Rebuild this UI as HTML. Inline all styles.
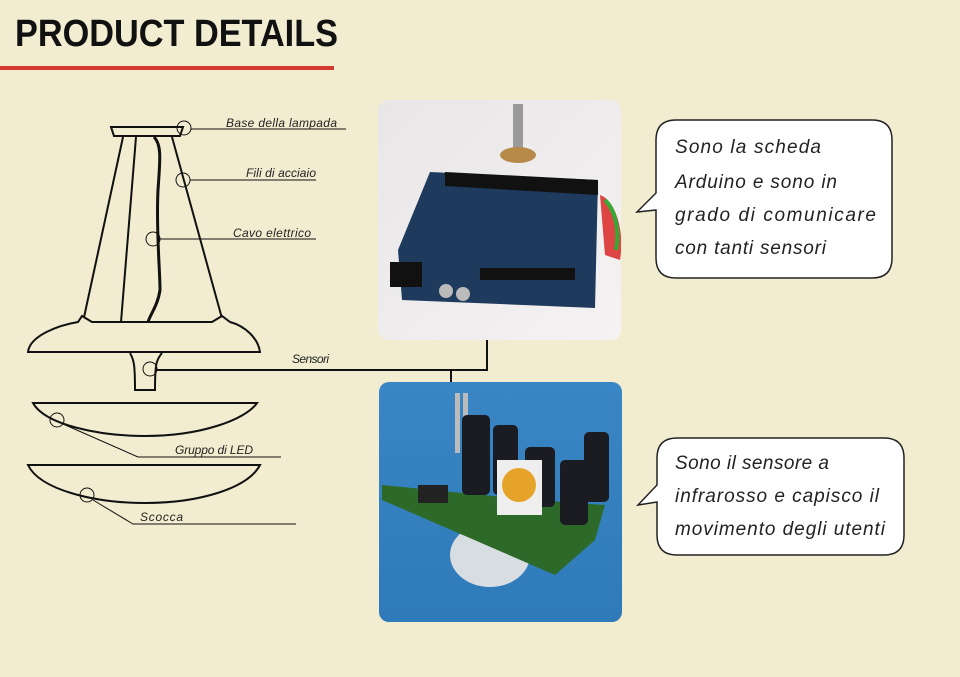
<!DOCTYPE html>
<html><head><meta charset="utf-8"><style>
body{margin:0;background:#f2ecd0;}
svg{display:block}
</style></head><body>
<svg width="960" height="677" viewBox="0 0 960 677" xmlns="http://www.w3.org/2000/svg" font-family="Liberation Sans, sans-serif">
<rect width="960" height="677" fill="#f2ecd0"/>
<text x="15" y="46" font-size="38" font-weight="bold" fill="#111" textLength="323" lengthAdjust="spacingAndGlyphs">PRODUCT DETAILS</text>
<rect x="0" y="66" width="334" height="4" fill="#d43a2e"/>

<g fill="none" stroke="#111" stroke-width="2">
<path d="M111 127 L183 127 L180 136 L114 136 Z" fill="#f2ecd0"/>
<line x1="123" y1="137" x2="83" y2="322"/>
<line x1="136" y1="137" x2="121" y2="322"/>
<line x1="172" y1="137" x2="223" y2="322"/>
<path d="M154 137 C162 145 160 160 158 190 C156 230 160 270 160 290 C158 305 150 315 148 322" stroke-width="3"/>
<path d="M28 352 C30 335 60 325 78 322 L82 316 L92 322 C130 322 180 322 212 322 L222 316 L230 322 C245 326 258 338 260 352 Z" fill="#f2ecd0"/>
<path d="M130 353 C134 360 135 365 135 390 L155 390 C155 365 156 360 162 353"/>
<path d="M33 403 L257 403 C245 420 200 436 145 436 C100 436 45 425 33 403 Z"/>
<path d="M28 465 L260 465 C248 488 200 503 145 503 C95 503 40 490 28 465 Z"/>
</g>
<g fill="none" stroke="#111" stroke-width="1">
<circle cx="184" cy="128" r="7"/><line x1="191" y1="129" x2="346" y2="129"/>
<circle cx="183" cy="180" r="7"/><line x1="190" y1="180" x2="316" y2="180"/>
<circle cx="153" cy="239" r="7"/><line x1="160" y1="239" x2="316" y2="239"/>
<circle cx="150" cy="369" r="7"/>
<circle cx="57" cy="420" r="7"/><polyline points="63,424 138,457 281,457"/>
<circle cx="87" cy="495" r="7"/><polyline points="93,500 133,524 296,524"/>
</g>
<polyline points="157,370 487,370 487,340" fill="none" stroke="#111" stroke-width="2"/>
<line x1="451" y1="370" x2="451" y2="383" stroke="#111" stroke-width="2"/>
<g font-size="12" font-style="italic" fill="#222">
<text x="226" y="127" textLength="111">Base della lampada</text>
<text x="246" y="177" textLength="70">Fili di acciaio</text>
<text x="233" y="237" textLength="78">Cavo elettrico</text>
<text x="292" y="363" textLength="37">Sensori</text>
<text x="175" y="454" textLength="78">Gruppo di LED</text>
<text x="140" y="521" textLength="43">Scocca</text>
</g>

<defs>
<clipPath id="c1"><rect x="378" y="100" width="243" height="240" rx="10"/></clipPath>
<clipPath id="c2"><rect x="379" y="382" width="243" height="240" rx="10"/></clipPath>
<linearGradient id="g1" x1="0" y1="0" x2="1" y2="1"><stop offset="0" stop-color="#e8e6e6"/><stop offset="1" stop-color="#f4f2f2"/></linearGradient>
<linearGradient id="g2" x1="0" y1="0" x2="0" y2="1"><stop offset="0" stop-color="#3a86c4"/><stop offset="1" stop-color="#2f7ab8"/></linearGradient>
</defs>
<g clip-path="url(#c1)">
<rect x="378" y="100" width="243" height="240" fill="url(#g1)"/>
<rect x="513" y="104" width="10" height="45" fill="#999"/>
<ellipse cx="518" cy="155" rx="18" ry="8" fill="#b88a4a"/>
<path d="M430 172 L598 180 L595 308 L402 300 L398 250 Z" fill="#1e3a5c"/>
<path d="M445 172 L598 180 L598 195 L445 186Z" fill="#111"/>
<rect x="480" y="268" width="95" height="12" fill="#111"/>
<rect x="390" y="262" width="32" height="25" fill="#111"/>
<circle cx="446" cy="291" r="7" fill="#bbb"/><circle cx="463" cy="294" r="7" fill="#bbb"/>
<path d="M600 195 C615 200 625 230 620 260 L605 255 Z" fill="#d44"/>
<path d="M605 200 C615 210 620 230 616 250" stroke="#3a3" stroke-width="4" fill="none"/>
</g>
<g clip-path="url(#c2)">
<rect x="379" y="382" width="243" height="240" fill="url(#g2)"/>
<ellipse cx="490" cy="555" rx="40" ry="32" fill="#d8dde2"/>
<path d="M382 485 L535 500 L605 505 L595 540 L555 575 L382 500 Z" fill="#2d6a2a"/>
<rect x="455" y="393" width="5" height="60" fill="#bbb"/><rect x="463" y="393" width="5" height="60" fill="#bbb"/>
<rect x="462" y="415" width="28" height="80" rx="5" fill="#1b1b22"/>
<rect x="493" y="425" width="25" height="70" rx="5" fill="#1b1b22"/>
<rect x="525" y="447" width="30" height="60" rx="5" fill="#1b1b22"/>
<rect x="560" y="460" width="28" height="65" rx="5" fill="#1b1b22"/>
<rect x="584" y="432" width="25" height="70" rx="5" fill="#1b1b22"/>
<rect x="497" y="460" width="45" height="55" fill="#eee"/>
<circle cx="519" cy="485" r="17" fill="#e6a32a"/>
<rect x="418" y="485" width="30" height="18" fill="#222"/>
</g>

<g fill="#fff" stroke="#222" stroke-width="1.5">
<path d="M676 120 L872 120 Q892 120 892 140 L892 258 Q892 278 872 278 L676 278 Q656 278 656 258 L656 210 L637 212 L656 193 L656 140 Q656 120 676 120 Z"/>
<path d="M677 438 L884 438 Q904 438 904 458 L904 535 Q904 555 884 555 L677 555 Q657 555 657 535 L657 502 L638 505 L657 485 L657 458 Q657 438 677 438 Z"/>
</g>
<g font-size="19" font-style="italic" fill="#222" lengthAdjust="spacingAndGlyphs">
<text x="675" y="153" textLength="146">Sono la scheda</text>
<text x="675" y="188" textLength="162">Arduino e sono in</text>
<text x="675" y="221" textLength="201">grado di comunicare</text>
<text x="675" y="254" textLength="151">con tanti sensori</text>
<text x="675" y="469" textLength="154">Sono il sensore a</text>
<text x="675" y="502" textLength="204">infrarosso e capisco il</text>
<text x="675" y="535" textLength="210">movimento degli utenti</text>
</g>
</svg>
</body></html>
